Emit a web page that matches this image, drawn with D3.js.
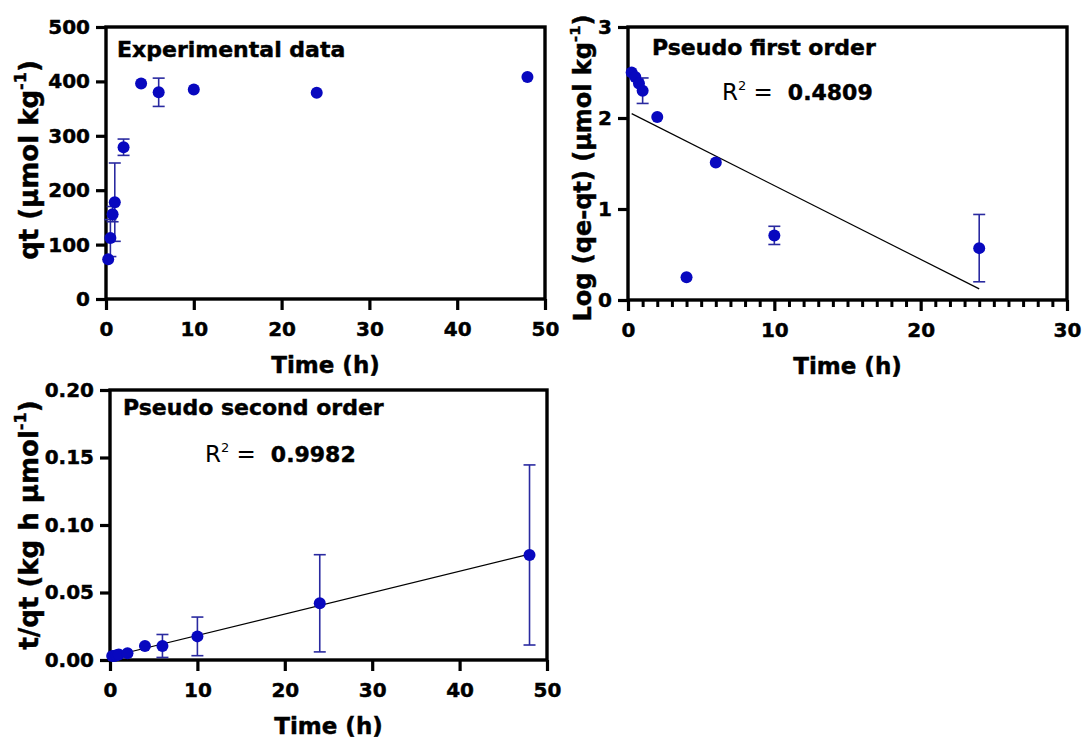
<!DOCTYPE html>
<html>
<head>
<meta charset="utf-8">
<script src="https://cdn.jsdelivr.net/npm/d3@7"></script>
<style>
  html, body { margin: 0; padding: 0; background: #fff; }
  svg { display: block; font-family: "DejaVu Sans", Verdana, sans-serif; font-weight: bold; }
  .heavy { stroke: #000; stroke-width: 0.45px; paint-order: stroke; }
</style>
</head>
<body>
<svg id="chart" width="1086" height="738"></svg>
<script>
// Sampling times (h)
const timeH = [0.25, 0.5, 0.75, 1, 2, 4, 6, 10, 24, 48];

// Experimental uptake qt (µmol kg-1) with error
const qtValues = [73, 112, 156, 178, 279, 396, 380, 385, 379, 408];
const qtErrors = [0, 34, 14, 72, 15, 0, 26, 0, 0, 0];

// Pseudo first order: log(qe - qt)
const pfoTime = [0.25, 0.5, 0.75, 1, 2, 4, 6, 10, 24];
const pfoValues = [2.50, 2.45, 2.38, 2.30, 2.01, 0.25, 1.51, 0.71, 0.57];
const pfoErrors = [0, 0, 0, 0.14, 0, 0, 0, 0.10, 0.37];

// Pseudo second order: t/qt
const psoValues = [0.0030, 0.0030, 0.0035, 0.0040, 0.0050, 0.0104, 0.0104, 0.0175, 0.0420, 0.0778];
const psoErrors = [0, 0, 0, 0, 0, 0, 0.0085, 0.0143, 0.036, 0.0667];

// Axis ticks
const xTicks50 = [0, 10, 20, 30, 40, 50];
const xTicks30 = [0, 10, 20, 30];
const qtTicks = [0, 100, 200, 300, 400, 500];
const pfoTicks = [0, 1, 2, 3];
const psoTicks = [0, 0.05, 0.10, 0.15, 0.20];

// Panel texts
const panelTitles = ["Experimental data", "Pseudo first order", "Pseudo second order"];
const r2Labels = ["0.4809", "0.9982"];

const svg = d3.select("#chart");
const dotColor = "#0808bf";
const barColor = "#2a2aa0";

function linearFit(xs, ys) {
  const mx = d3.mean(xs), my = d3.mean(ys);
  let sxy = 0, sxx = 0;
  xs.forEach((x, i) => { sxy += (x - mx) * (ys[i] - my); sxx += (x - mx) * (x - mx); });
  const slope = sxy / sxx;
  return { slope, intercept: my - slope * mx };
}

function drawPanel(cfg) {
  const g = svg.append("g");
  const x = d3.scaleLinear().domain(cfg.xDomain).range([cfg.left, cfg.right]);
  const y = d3.scaleLinear().domain(cfg.yDomain).range([cfg.bottom, cfg.top]);

  // minor ticks
  if (cfg.xMinor) {
    g.append("g")
      .attr("transform", `translate(0,${cfg.bottom})`)
      .call(d3.axisBottom(x).tickValues(cfg.xMinor).tickSize(7).tickFormat(""))
      .call(a => a.select(".domain").remove())
      .call(a => a.selectAll("line").attr("stroke", "#000").attr("stroke-width", 3));
  }

  const xAxis = g.append("g")
    .attr("transform", `translate(0,${cfg.bottom})`)
    .call(d3.axisBottom(x).tickValues(cfg.xTicks).tickSize(11).tickPadding(12).tickFormat(d3.format("d")));
  xAxis.select(".domain").remove();
  xAxis.selectAll("line").attr("stroke", "#000").attr("stroke-width", 3.2);
  xAxis.selectAll("text").attr("font-size", 20).attr("font-weight", "bold")
    .attr("font-family", "DejaVu Sans").attr("fill", "#000").attr("class", "heavy");

  const yAxis = g.append("g")
    .attr("transform", `translate(${cfg.left},0)`)
    .call(d3.axisLeft(y).tickValues(cfg.yTicks).tickSize(10).tickPadding(6).tickFormat(cfg.yFormat));
  yAxis.select(".domain").remove();
  yAxis.selectAll("line").attr("stroke", "#000").attr("stroke-width", 3.2);
  yAxis.selectAll("text").attr("font-size", 20).attr("font-weight", "bold")
    .attr("font-family", "DejaVu Sans").attr("fill", "#000").attr("class", "heavy");

  // frame
  g.append("rect")
    .attr("x", cfg.left).attr("y", cfg.top)
    .attr("width", cfg.right - cfg.left).attr("height", cfg.bottom - cfg.top)
    .attr("fill", "none").attr("stroke", "#000").attr("stroke-width", 3.4);

  // fitted line
  if (cfg.fit) {
    const f = linearFit(cfg.xs, cfg.ys);
    const x0 = d3.min(cfg.xs), x1 = d3.max(cfg.xs);
    g.append("line")
      .attr("x1", x(x0)).attr("y1", y(f.intercept + f.slope * x0))
      .attr("x2", x(x1)).attr("y2", y(f.intercept + f.slope * x1))
      .attr("stroke", "#000").attr("stroke-width", 1.2);
  }

  // error bars
  const pts = cfg.xs.map((t, i) => ({ t, v: cfg.ys[i], e: cfg.errs[i] })).filter(d => d.e > 0);
  const eb = g.append("g").attr("stroke", barColor).attr("stroke-width", 1.6);
  pts.forEach(d => {
    eb.append("line").attr("x1", x(d.t)).attr("x2", x(d.t)).attr("y1", y(d.v - d.e)).attr("y2", y(d.v + d.e));
    [d.v - d.e, d.v + d.e].forEach(v => {
      eb.append("line").attr("x1", x(d.t) - 6).attr("x2", x(d.t) + 6).attr("y1", y(v)).attr("y2", y(v));
    });
  });

  // points
  g.append("g").selectAll("circle")
    .data(cfg.xs.map((t, i) => ({ t, v: cfg.ys[i] })))
    .join("circle")
    .attr("cx", d => x(d.t)).attr("cy", d => y(d.v)).attr("r", 6)
    .attr("fill", dotColor);

  // panel title
  g.append("text").attr("x", cfg.titleX).attr("y", cfg.titleY).attr("class", "heavy")
    .attr("font-size", 22).attr("fill", "#000").text(cfg.title);

  // R squared
  if (cfg.r2) {
    const t = g.append("text").attr("x", cfg.r2X).attr("y", cfg.r2Y).attr("fill", "#000");
    t.append("tspan").attr("font-weight", "normal").attr("font-size", 23).text("R");
    t.append("tspan").attr("font-weight", "normal").attr("font-size", 13).attr("dy", -10).text("2");
    t.append("tspan").attr("font-weight", "normal").attr("font-size", 23).attr("dy", 10).text(" = ");
    t.append("tspan").attr("font-size", 22).attr("class", "heavy").text("\u00a0" + cfg.r2);
  }

  // x title
  g.append("text").attr("x", (cfg.left + cfg.right) / 2).attr("y", cfg.bottom + 74).attr("class", "heavy")
    .attr("text-anchor", "middle").attr("font-size", 23).attr("fill", "#000").text("Time (h)");

  // y title with superscript
  const yt = g.append("text").attr("class", "heavy")
    .attr("transform", `translate(${cfg.yTitleX},${cfg.yTitleY}) rotate(-90)`)
    .attr("text-anchor", "middle").attr("font-size", cfg.yTitleSize).attr("fill", "#000");
  yt.append("tspan").text(cfg.yTitle[0]);
  yt.append("tspan").attr("font-size", cfg.yTitleSize * 0.62).attr("dy", -cfg.yTitleSize * 0.45).text(cfg.yTitle[1]);
  yt.append("tspan").attr("dy", cfg.yTitleSize * 0.45).text(cfg.yTitle[2]);
}

drawPanel({
  left: 106, right: 545, top: 27, bottom: 299,
  xDomain: [0, 50], yDomain: [0, 500],
  xTicks: xTicks50, yTicks: qtTicks, yFormat: d3.format("d"),
  xs: timeH, ys: qtValues, errs: qtErrors,
  title: panelTitles[0], titleX: 117, titleY: 57,
  yTitle: ["qt (\u00b5mol kg", "-1", ")"], yTitleX: 38, yTitleY: 160, yTitleSize: 26
});

drawPanel({
  left: 628, right: 1067, top: 27, bottom: 300,
  xDomain: [0, 30], yDomain: [0, 3],
  xTicks: xTicks30, xMinor: d3.range(1, 30).filter(v => v % 10 !== 0),
  yTicks: pfoTicks, yFormat: d3.format("d"),
  xs: pfoTime, ys: pfoValues, errs: pfoErrors, fit: true,
  title: panelTitles[1], titleX: 652, titleY: 55,
  r2: r2Labels[0], r2X: 722, r2Y: 100,
  yTitle: ["Log (qe-qt) (\u00b5mol kg", "-1", ")"], yTitleX: 591, yTitleY: 168, yTitleSize: 24
});

drawPanel({
  left: 110, right: 547, top: 390, bottom: 660,
  xDomain: [0, 50], yDomain: [0, 0.2],
  xTicks: xTicks50, yTicks: psoTicks, yFormat: d3.format(".2f"),
  xs: timeH, ys: psoValues, errs: psoErrors, fit: true,
  title: panelTitles[2], titleX: 123, titleY: 415,
  r2: r2Labels[1], r2X: 205, r2Y: 462,
  yTitle: ["t/qt (kg h \u00b5mol", "-1", ")"], yTitleX: 38, yTitleY: 525, yTitleSize: 26
});
</script>
</body>
</html>
